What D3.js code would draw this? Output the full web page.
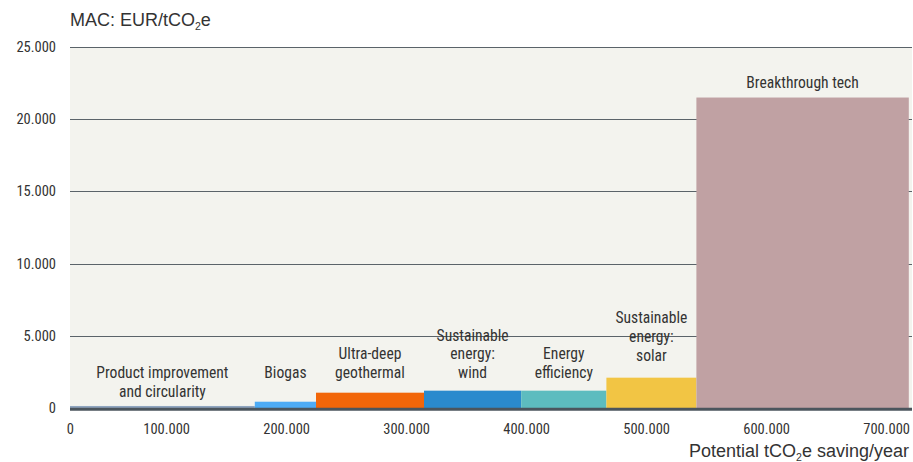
<!DOCTYPE html>
<html><head><meta charset="utf-8">
<script src="https://cdn.jsdelivr.net/npm/d3@7"></script>
<style>
html,body{margin:0;padding:0;background:#fff;}
svg{display:block;}
</style></head>
<body>
<svg id="chart" width="913" height="462"></svg>
<script>
// ---- data ----
const categories = ["Product improvement\nand circularity","Biogas","Ultra-deep\ngeothermal","Sustainable\nenergy:\nwind","Energy\nefficiency","Sustainable\nenergy:\nsolar","Breakthrough tech"];
const potentials = [154000, 51000, 90000, 81000, 71000, 75000, 177000]; // tCO2e/year (bar widths)
const macValues = [140, 435, 1060, 1200, 1200, 2100, 21500];           // EUR/tCO2e (bar heights)
const labelValues = [780, 2080, 2080, 2080, 2080, 3280, 22130];       // baseline of last label line, EUR/tCO2e
const colors = ["#8fa5bf","#4dabf5","#f26609","#2a8acd","#5dbcbf","#f2c544","#c0a1a3"];
const xTicks = [0,100000,200000,300000,400000,500000,600000,700000];
const yTicks = [0,5000,10000,15000,20000,25000];

// ---- layout ----
const svg = d3.select("#chart");
const L = 70, R = 910, T = 47, B = 408;
const x = d3.scaleLinear().domain([0,700000]).range([L,R]);
const y = d3.scaleLinear().domain([0,25000]).range([B,T]);
const fmt = v => d3.format(",")(v).replace(/,/g,".");
const condensed = "'Roboto Condensed','Liberation Sans Narrow','DejaVu Sans Condensed',sans-serif";
const titleFont = "'Liberation Sans',Arial,sans-serif";

// background
svg.append("rect").attr("x",L).attr("y",T).attr("width",912-L).attr("height",B-T).attr("fill","#f3f3ee");

// grid lines
svg.append("g").selectAll("line").data(yTicks.filter(d=>d>0)).join("line")
  .attr("x1",L).attr("x2",912).attr("y1",d=>Math.round(y(d))+0.5).attr("y2",d=>Math.round(y(d))+0.5)
  .attr("stroke","#5a6369").attr("stroke-width",1);

// bars
let cum = 0;
const bars = potentials.map((p,i)=>{const b={start:cum,end:cum+p,v:macValues[i],c:colors[i],name:categories[i],lv:labelValues[i]};cum+=p;return b;});
svg.append("g").selectAll("rect").data(bars).join("rect")
  .attr("x",d=>x(d.start)).attr("width",d=>x(d.end)-x(d.start))
  .attr("y",d=>y(d.v)).attr("height",d=>y(0)-y(d.v))
  .attr("fill",d=>d.c);

// zero axis line
svg.append("line").attr("x1",L).attr("x2",912).attr("y1",B+1.3).attr("y2",B+1.3)
  .attr("stroke","#4b555d").attr("stroke-width",3);

// bar labels
const lg = svg.append("g").attr("font-family",condensed).attr("font-size",15.6).attr("fill","#333").attr("text-anchor","middle");
bars.forEach(b=>{
  const lines = b.name.split("\n");
  const cx = (x(b.start)+x(b.end))/2;
  const base = y(b.lv);
  lines.forEach((ln,k)=>{
    lg.append("text").attr("x",cx).attr("y",base-(lines.length-1-k)*18.6).text(ln);
  });
});

// y tick labels
svg.append("g").attr("font-family",condensed).attr("font-size",14.5).attr("fill","#333").attr("text-anchor","end")
  .selectAll("text").data(yTicks).join("text")
  .attr("x",56).attr("y",d=>y(d)+5).text(d=>fmt(d));

// x tick labels
svg.append("g").attr("font-family",condensed).attr("font-size",14.5).attr("fill","#333").attr("text-anchor","end")
  .selectAll("text").data(xTicks).join("text")
  .attr("x",d=>x(d)+(d===0?4:0)).attr("y",434).text(d=>fmt(d));

// titles
const yt = svg.append("text").attr("x",70).attr("y",26).attr("font-family",titleFont).attr("font-size",18).attr("fill","#333");
yt.append("tspan").text("MAC: EUR/tCO");
yt.append("tspan").attr("font-size",10.5).attr("dy",4).text("2");
yt.append("tspan").attr("dy",-4).text("e");

const xt = svg.append("text").attr("x",909).attr("y",457).attr("text-anchor","end").attr("font-family",titleFont).attr("font-size",18).attr("fill","#333");
xt.append("tspan").text("Potential tCO");
xt.append("tspan").attr("font-size",10.5).attr("dy",4).text("2");
xt.append("tspan").attr("dy",-4).text("e saving/year");
</script>
</body></html>
